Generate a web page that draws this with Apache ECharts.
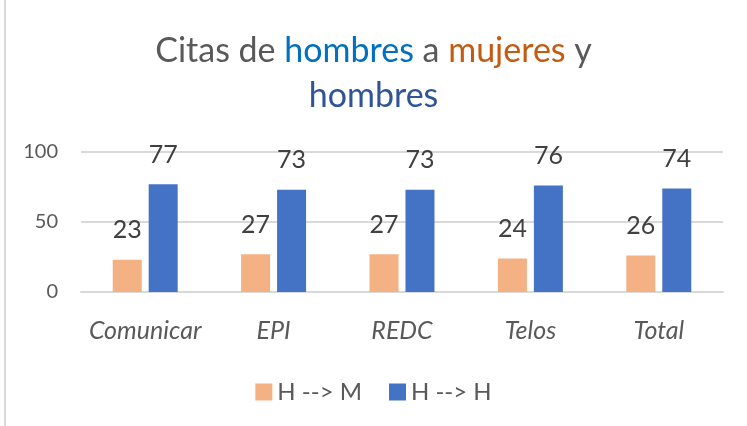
<!DOCTYPE html>
<html>
<head>
<meta charset="utf-8">
<script src="https://cdn.jsdelivr.net/npm/echarts@6/dist/echarts.min.js"></script>
<style>
    html, body { margin: 0; padding: 0; background: #fff; }
    #chart { width: 747px; height: 426px; }
</style>
</head>
<body>
<div id="chart"></div>
<script>
const categories = ['Comunicar', 'EPI', 'REDC', 'Telos', 'Total'];
const hToM = [23, 27, 27, 24, 26];
const hToH = [77, 73, 73, 76, 74];
const seriesNames = ['H --> M', 'H --> H'];
const yTicks = [0, 50, 100];

const FONT = 'Lato';

window.onload = () => {
    let chart = echarts.init(document.getElementById('chart'));

    let labelStyle = {
        show: true,
        position: 'top',
        distance: 17,
        fontFamily: FONT,
        fontSize: 25,
        color: '#404040'
    };

    let titleText = (color) => ({
        fontFamily: FONT,
        fontWeight: 'normal',
        fontSize: 34,
        color: color,
        lineHeight: 45
    });

    let option = {
        backgroundColor: '#fff',
        animation: false,
        title: {
            text: '{g|Citas de }{b|hombres}{g| a }{o|mujeres}{g| y}\n{d|hombres}',
            left: 'center',
            top: 24,
            textStyle: {
                fontWeight: 'normal',
                rich: {
                    g: titleText('#595959'),
                    b: titleText('#0070C0'),
                    o: titleText('#C55A11'),
                    d: titleText('#2F5597')
                }
            }
        },
        legend: {
            top: 375,
            left: 'center',
            itemWidth: 17,
            itemHeight: 17,
            itemGap: 27,
            icon: 'rect',
            textStyle: { fontFamily: FONT, fontSize: 24, color: '#595959' },
            data: seriesNames
        },
        grid: {
            left: 81,
            right: 24,
            top: 152,
            bottom: 134
        },
        xAxis: {
            type: 'category',
            data: categories,
            axisLine: { lineStyle: { color: '#d9d9d9', width: 2 } },
            axisTick: { show: false },
            axisLabel: {
                interval: 0,
                margin: 26,
                fontFamily: FONT,
                fontStyle: 'italic',
                fontSize: 25,
                color: '#595959'
            }
        },
        yAxis: {
            type: 'value',
            min: yTicks[0],
            max: yTicks[yTicks.length - 1],
            interval: 50,
            axisLine: { show: false },
            axisTick: { show: false },
            axisLabel: {
                margin: 23,
                fontFamily: FONT,
                fontSize: 20,
                color: '#595959'
            },
            splitLine: { lineStyle: { color: '#d9d9d9', width: 2 } }
        },
        series: [
            {
                name: seriesNames[0],
                type: 'bar',
                data: hToM,
                barWidth: 29,
                barGap: '24%',
                itemStyle: { color: '#F4B183' },
                label: labelStyle
            },
            {
                name: seriesNames[1],
                type: 'bar',
                data: hToH,
                barWidth: 29,
                barGap: '24%',
                itemStyle: { color: '#4472C4' },
                label: labelStyle
            }
        ],
        graphic: [
            {
                type: 'line',
                shape: { x1: 5, y1: 0, x2: 5, y2: 426 },
                style: { stroke: '#d9d9d9', lineWidth: 2 }
            }
        ]
    };

    chart.setOption(option);
};
</script>
</body>
</html>
